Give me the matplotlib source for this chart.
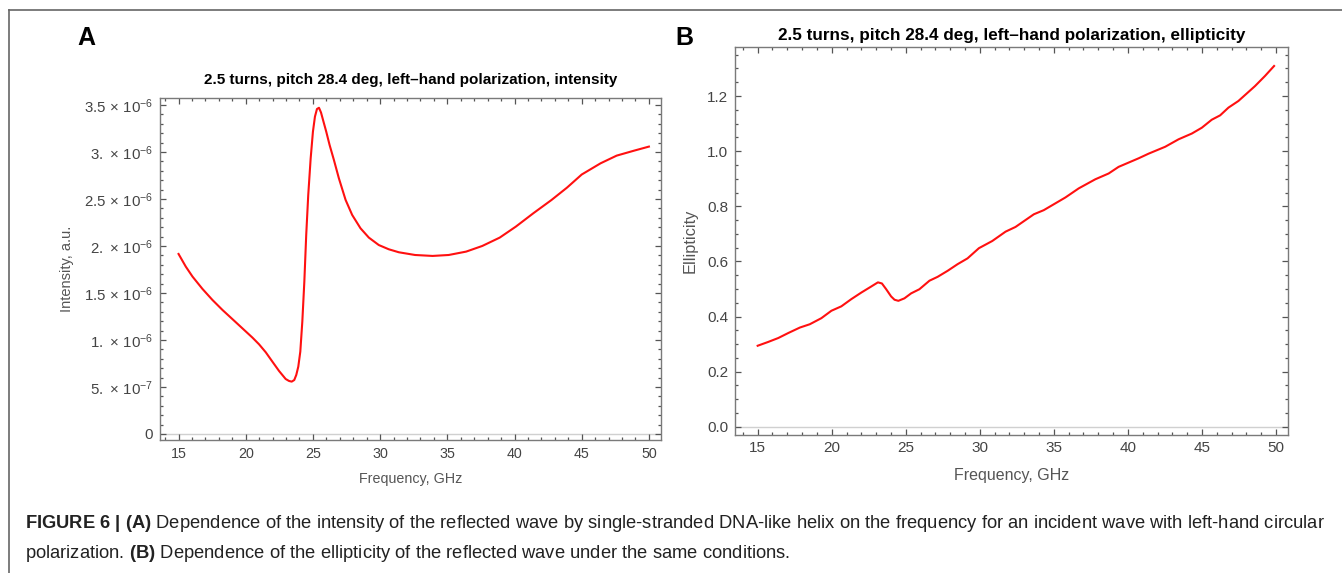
import matplotlib
matplotlib.use('Agg')
import matplotlib.pyplot as plt
from matplotlib.ticker import MultipleLocator, FixedLocator, FixedFormatter
from matplotlib.lines import Line2D
#
plt.rcParams['font.family'] = ['Liberation Sans', 'DejaVu Sans']
plt.rcParams['mathtext.fontset'] = 'custom'
plt.rcParams['mathtext.rm'] = 'Liberation Sans'
plt.rcParams['mathtext.bf'] = 'Liberation Sans:bold'
plt.rcParams['mathtext.it'] = 'Liberation Sans:italic'
#
# panel A: intensity (units of 1e-6) vs frequency
freq_a = [15.0, 15.54, 16.04, 16.78, 17.52, 18.27, 19.0, 19.75, 20.5, 20.99,
		  21.49, 21.98, 22.48, 22.97, 23.22, 23.42, 23.61, 23.76, 23.91, 24.06,
		  24.21, 24.36, 24.5, 24.65, 24.83, 25.0, 25.15, 25.3, 25.45, 25.6,
		  25.79, 25.99, 26.24, 26.56, 26.93, 27.43, 27.92, 28.54, 29.16, 29.9,
		  30.64, 31.39, 32.6, 33.9, 35.1, 36.4, 37.6, 38.9, 40.1, 41.4,
		  42.75, 43.9, 45.0, 46.4, 47.6, 48.9, 50.0]
intensity = [1.915, 1.78, 1.674, 1.543, 1.426, 1.319, 1.223, 1.124, 1.025, 0.954,
			 0.869, 0.77, 0.67, 0.585, 0.564, 0.557, 0.574, 0.628, 0.716, 0.876,
			 1.195, 1.62, 2.117, 2.54, 2.93, 3.216, 3.376, 3.457, 3.47, 3.42,
			 3.32, 3.216, 3.074, 2.915, 2.72, 2.49, 2.33, 2.188, 2.089, 2.01,
			 1.965, 1.933, 1.904, 1.894, 1.904, 1.94, 2.0, 2.089, 2.206, 2.348,
			 2.489, 2.62, 2.76, 2.879, 2.961, 3.014, 3.057]
#
# panel B: ellipticity vs frequency
freq_b = [15.0, 15.72, 16.39, 17.06, 17.85, 18.52, 19.3, 19.98, 20.65, 21.32,
		  22.0, 22.67, 23.12, 23.39, 23.68, 24.01, 24.24, 24.5, 24.91, 25.36,
		  25.92, 26.6, 27.15, 27.83, 28.5, 29.17, 29.94, 30.84, 31.74, 32.41,
		  33.65, 34.32, 35.78, 36.68, 37.8, 38.7, 39.37, 40.72, 41.4, 42.52,
		  43.42, 44.32, 44.99, 45.66, 46.23, 46.79, 47.46, 48.58, 49.26, 49.87]
ellipticity = [0.294, 0.308, 0.322, 0.340, 0.360, 0.372, 0.394, 0.421, 0.437, 0.463,
			   0.487, 0.509, 0.524, 0.520, 0.499, 0.473, 0.461, 0.457, 0.466, 0.484,
			   0.499, 0.530, 0.544, 0.566, 0.590, 0.611, 0.648, 0.674, 0.708, 0.725,
			   0.771, 0.786, 0.832, 0.865, 0.898, 0.919, 0.943, 0.974, 0.991, 1.016,
			   1.043, 1.064, 1.085, 1.114, 1.130, 1.158, 1.182, 1.236, 1.273, 1.309]
#
xticks = [15, 20, 25, 30, 35, 40, 45, 50]
yticks_a = [0, 0.5, 1.0, 1.5, 2.0, 2.5, 3.0, 3.5]
ylabels_a = ['0', r'$5.\,\times\,10^{-7}$', r'$1.\,\times\,10^{-6}$', r'$1.5\,\times\,10^{-6}$',
			 r'$2.\,\times\,10^{-6}$', r'$2.5\,\times\,10^{-6}$', r'$3.\,\times\,10^{-6}$', r'$3.5\,\times\,10^{-6}$']
yticks_b = [0.0, 0.2, 0.4, 0.6, 0.8, 1.0, 1.2]
#
title_a = '2.5 turns, pitch 28.4 deg, left\u2013hand polarization, intensity'
title_b = '2.5 turns, pitch 28.4 deg, left\u2013hand polarization, ellipticity'
caption1 = (r'$\mathbf{FIGURE\ 6\ |\ (A)}$ Dependence of the intensity of the reflected wave by '
			'single-stranded DNA-like helix on the frequency for an incident wave with left-hand circular')
caption2 = r'polarization. $\mathbf{(B)}$ Dependence of the ellipticity of the reflected wave under the same conditions.'
#
FRAME = '#7a7a7a'
TICKC = '#444444'
LABELC = '#555555'
LINEC = '#ff1010'
#
def style_axes(ax, tsize):
	for s in ax.spines.values():
		s.set_color(FRAME)
		s.set_linewidth(1.0)
	ax.tick_params(which='both', direction='in', top=True, right=True, color='#555555', width=0.9)
	ax.tick_params(which='major', length=4.5, labelsize=tsize, labelcolor=TICKC, pad=5)
	ax.tick_params(which='minor', length=2.5)
	ax.xaxis.set_major_locator(FixedLocator(xticks))
	ax.xaxis.set_minor_locator(MultipleLocator(1))
	ax.axhline(0, color='#d0d0d0', lw=1.0, zorder=0)
#
fig = plt.figure(figsize=(13.42, 5.73), dpi=100)
#
# panel A
ax1 = fig.add_axes([160/1342, 1-440/573, 501/1342, 342/573])
ax1.plot(freq_a, intensity, color=LINEC, lw=1.5)
ax1.set_xlim(13.62, 50.9)
ax1.set_ylim(-0.064, 3.574)
style_axes(ax1, 10.3)
ax1.tick_params(axis='y', labelsize=10.8)
ax1.yaxis.set_major_locator(FixedLocator(yticks_a))
ax1.yaxis.set_major_formatter(FixedFormatter(ylabels_a))
ax1.yaxis.set_minor_locator(MultipleLocator(0.1))
ax1.set_title(title_a, fontsize=11, fontweight='bold', pad=10)
ax1.set_xlabel('Frequency, GHz', fontsize=10.3, color=LABELC, labelpad=8)
ax1.set_ylabel('Intensity, a.u.', fontsize=10.5, color=LABELC, labelpad=7)
#
# panel B
ax2 = fig.add_axes([735/1342, 1-434.5/573, 553/1342, 387.8/573])
ax2.plot(freq_b, ellipticity, color=LINEC, lw=1.5)
ax2.set_xlim(13.47, 50.81)
ax2.set_ylim(-0.028, 1.379)
style_axes(ax2, 11)
ax2.yaxis.set_major_locator(FixedLocator(yticks_b))
ax2.yaxis.set_major_formatter(FixedFormatter(['%.1f' % v for v in yticks_b]))
ax2.yaxis.set_minor_locator(MultipleLocator(0.05))
ax2.set_title(title_b, fontsize=12.3, fontweight='bold', pad=5)
ax2.set_xlabel('Frequency, GHz', fontsize=11.5, color=LABELC, labelpad=9)
ax2.set_ylabel('Ellipticity', fontsize=11.8, color=LABELC, labelpad=7)
#
# panel letters
fig.text(86/1342, 1-38/573, 'A', fontsize=18, fontweight='bold', ha='center', va='center')
fig.text(684/1342, 1-38/573, 'B', fontsize=18, fontweight='bold', ha='center', va='center')
#
# caption
fig.text(25/1342, 1-523/573, caption1, fontsize=13.2, color='#222222', va='center')
fig.text(25/1342, 1-553/573, caption2, fontsize=13.2, color='#222222', va='center')
#
# outer frame (top and left edges)
fig.add_artist(Line2D([9/1342, 1], [1-10/573, 1-10/573], color='#666666', lw=1.2))
fig.add_artist(Line2D([9/1342, 9/1342], [0, 1-10/573], color='#666666', lw=1.2))
#
fig.savefig('out.png', dpi=100)
